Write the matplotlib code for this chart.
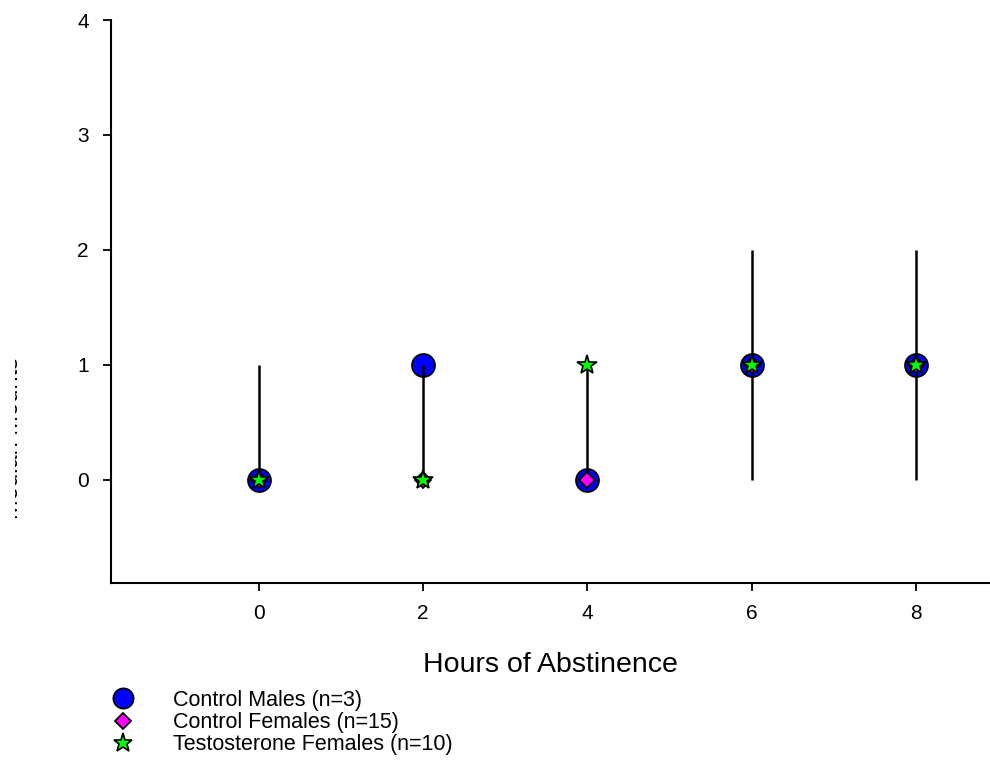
import matplotlib
matplotlib.use("Agg")
import matplotlib.pyplot as plt
from matplotlib.lines import Line2D
from matplotlib.transforms import Bbox

plt.rcParams['font.family'] = ['Liberation Sans', 'DejaVu Sans']

hours = [0, 2, 4, 6, 8]
males = [0, 1, 0, 1, 1]
females = [0, 0, 0, 1, 1]
testo = [0, 0, 1, 1, 1]
males_lo = [0, 1, 0, 1, 1]
males_hi = [1, 0, 1, 1, 1]
labels = ['Control Males (n=3)', 'Control Females (n=15)', 'Testosterone Females (n=10)']

fig = plt.figure(figsize=(9.9, 7.71), dpi=100)
ax = fig.add_axes([111 / 990, 1 - 583 / 771, 1 - 111 / 990, (583 - 20) / 771])

ax.plot(hours, males, 'o', ms=16.5, mfc='#0000ff', mec='black', mew=1.3, zorder=2)
ax.errorbar(hours, males, yerr=[males_lo, males_hi], fmt='none', ecolor='black',
            elinewidth=1.8, capsize=0, zorder=3)
ax.plot(hours, females, 'D', ms=8, mfc='#ff00ff', mec='black', mew=1.3, zorder=4)
ax.plot(hours, testo, '*', ms=15, mfc='#00ff00', mec='black', mew=1.2, zorder=5)

ax.set_xlim(-1.8, 8.9)
ax.set_ylim(-0.9, 4)
ax.set_xticks(hours)
ax.set_yticks([0, 1, 2, 3, 4])
ax.spines['top'].set_visible(False)
ax.spines['right'].set_visible(False)
for s in ['left', 'bottom']:
    ax.spines[s].set_linewidth(1.5)
ax.tick_params(axis='both', direction='out', length=6, width=1.3, labelsize=15)
ax.tick_params(axis='y', pad=10)
ax.tick_params(axis='x', pad=9)
ax.set_xlabel('Hours of Abstinence', fontsize=20.5, labelpad=21)

# y label sits mostly off the left edge, only a sliver shows
yl = fig.text(23 / 990, 1 - 438 / 771, 'Median Mounts', rotation=90, fontsize=17,
              ha='right', va='center')
yl.set_clip_box(Bbox.from_extents(15, 0, 20, 771))
yl.set_clip_on(True)

handles = [
    Line2D([], [], ls='none', marker='o', ms=14.5, mfc='#0000ff', mec='black', mew=1.3),
    Line2D([], [], ls='none', marker='D', ms=8, mfc='#ff00ff', mec='black', mew=1.3),
    Line2D([], [], ls='none', marker='*', ms=14, mfc='#00ff00', mec='black', mew=1.2),
]
fig.legend(handles, labels, loc='upper left', bbox_to_anchor=(108 / 990, 1 - 690 / 771),
           frameon=False, fontsize=15.5, handlelength=1.4, handletextpad=1.6,
           labelspacing=0.05, borderpad=0, borderaxespad=0)

fig.savefig('out.png', dpi=100)
